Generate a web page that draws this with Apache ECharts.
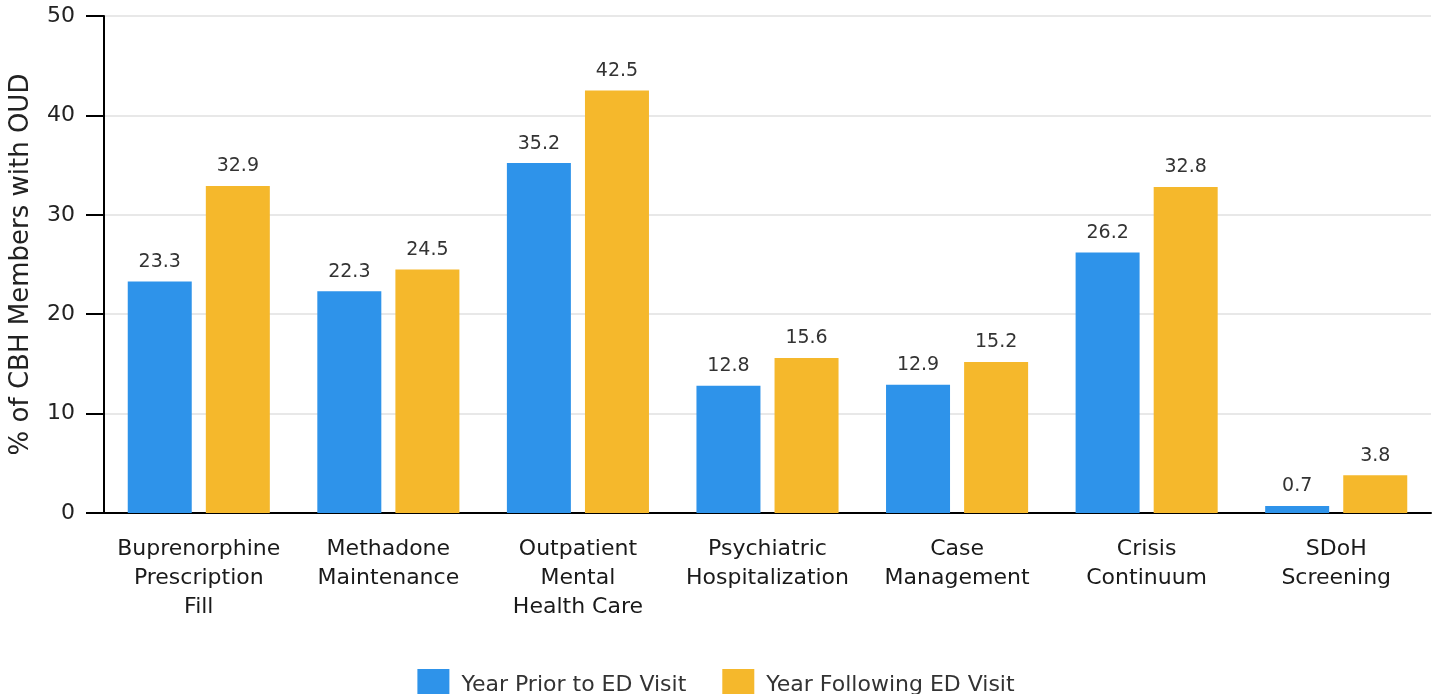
<!DOCTYPE html>
<html>
<head>
<meta charset="utf-8">
<script src="https://cdn.jsdelivr.net/npm/echarts@6/dist/echarts.min.js"></script>
<style>html,body{margin:0;padding:0;background:#fff}#c{width:1432px;height:694px}</style>
</head>
<body>
<div id="c"></div>
<script>
const categories = ['Buprenorphine\nPrescription\nFill', 'Methadone\nMaintenance', 'Outpatient\nMental\nHealth Care', 'Psychiatric\nHospitalization', 'Case\nManagement', 'Crisis\nContinuum', 'SDoH\nScreening'];
const priorValues = [23.3, 22.3, 35.2, 12.8, 12.9, 26.2, 0.7];
const followingValues = [32.9, 24.5, 42.5, 15.6, 15.2, 32.8, 3.8];
const seriesNames = ['Year Prior to ED Visit', 'Year Following ED Visit'];
const yTicks = [0, 10, 20, 30, 40, 50];

const chart = echarts.init(document.getElementById('c'));
const font = 'DejaVu Sans';
const labelStyle = {show: true, position: 'top', distance: 10, fontFamily: font, fontSize: 19, color: '#333'};
chart.setOption({
  animation: false,
  grid: {left: 100, right: 1, top: 16, bottom: 181, containLabel: false},
  legend: {
    bottom: -12, left: 'center', itemWidth: 32, itemHeight: 32, itemGap: 36,
    icon: 'rect',
    textStyle: {fontFamily: font, fontSize: 22, color: '#333', padding: [0, 0, 0, 7]},
    data: seriesNames
  },
  xAxis: {
    type: 'category', data: categories,
    axisLine: {lineStyle: {color: '#000', width: 2}},
    axisTick: {alignWithLabel: true, interval: 0, length: 18, lineStyle: {color: '#000', width: 2}},
    axisLabel: {interval: 0, fontFamily: font, fontSize: 22, color: '#1a1a1a', lineHeight: 29, margin: 22}
  },
  yAxis: {
    type: 'value', min: yTicks[0], max: yTicks[yTicks.length - 1], interval: 10,
    name: '% of CBH Members with OUD', nameLocation: 'middle', nameGap: 70,
    nameTextStyle: {fontFamily: font, fontSize: 26, color: '#222'},
    axisLine: {show: true, lineStyle: {color: '#000', width: 2}},
    axisTick: {show: true, length: 18, lineStyle: {color: '#000', width: 2}},
    axisLabel: {fontFamily: font, fontSize: 22, color: '#222', margin: 29},
    splitLine: {lineStyle: {color: '#e8e8e8', width: 2}}
  },
  series: [
    {name: seriesNames[0], type: 'bar', data: priorValues, barWidth: 64, barGap: '22%', itemStyle: {color: '#2E93EA'}, label: labelStyle},
    {name: seriesNames[1], type: 'bar', data: followingValues, barWidth: 64, itemStyle: {color: '#F5B82C'}, label: labelStyle}
  ]
});
</script>
</body>
</html>
